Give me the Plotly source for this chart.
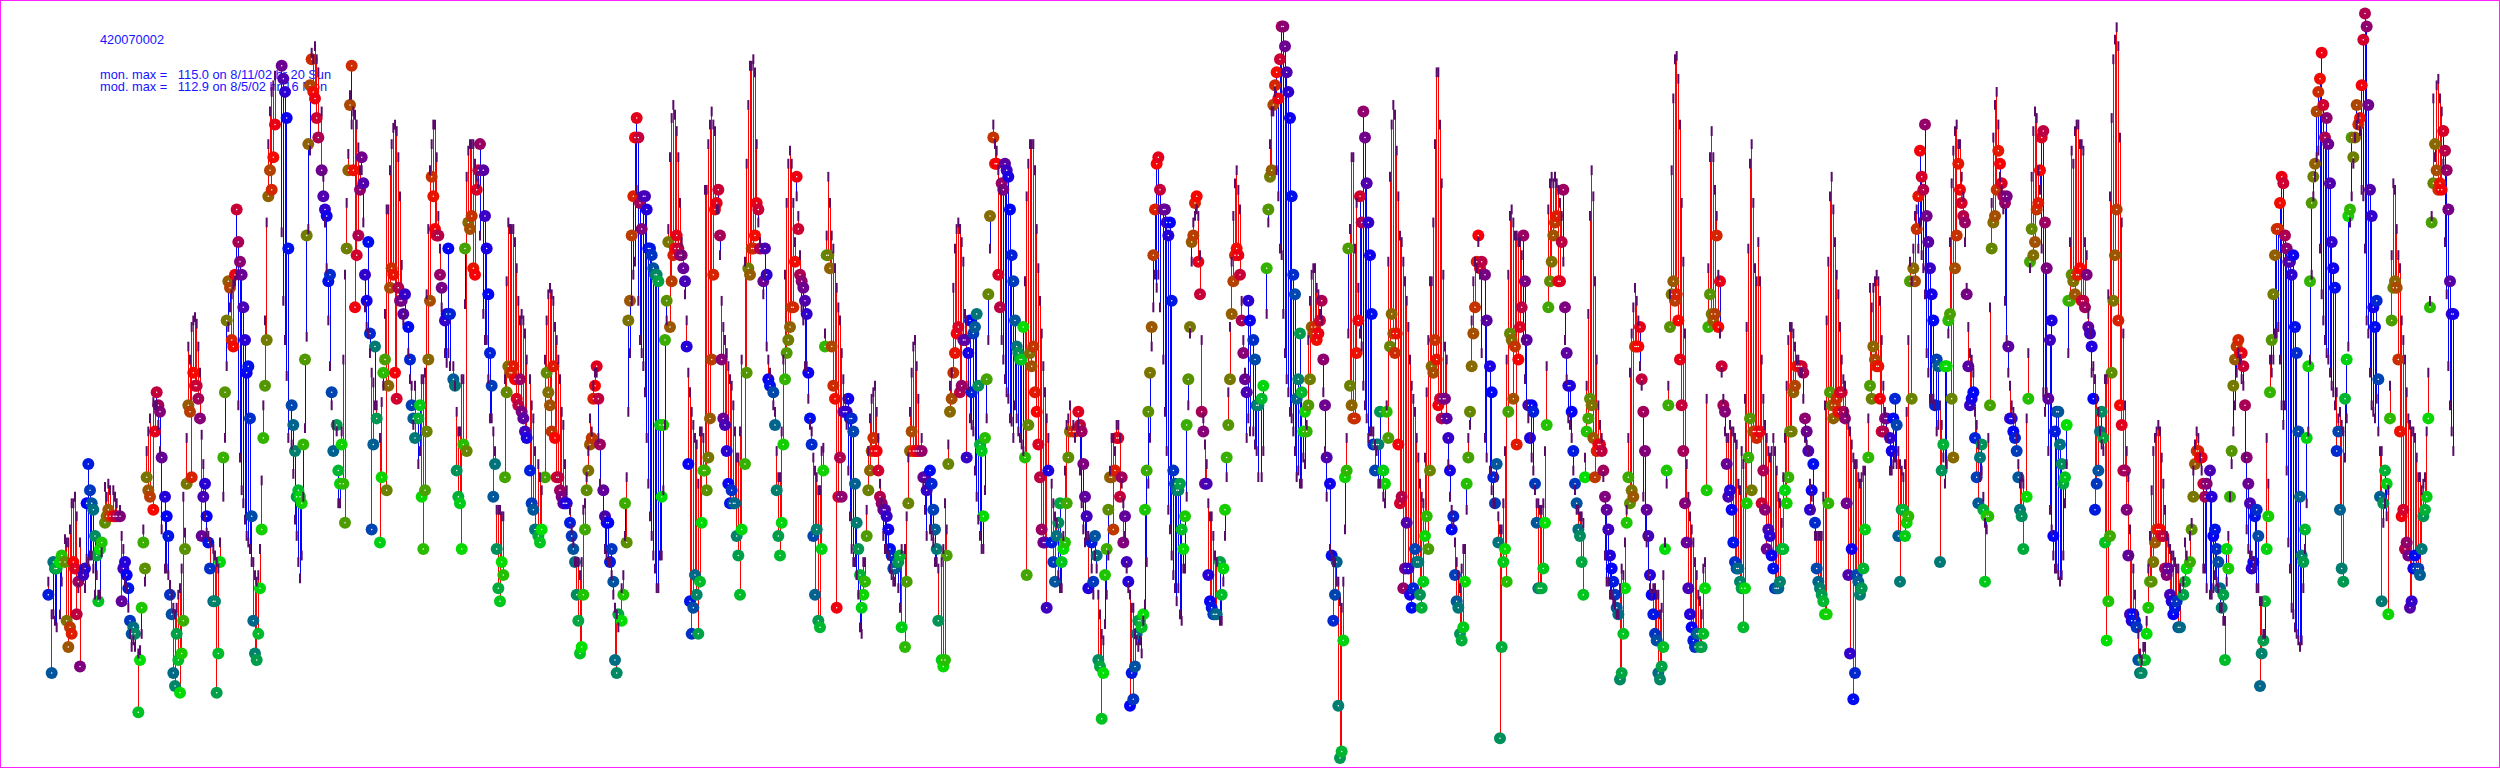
import plotly.graph_objects as go

site_id = "420070002"
mon_text = "mon. max =\u00a0\u00a0 115.0 on 8/11/02 hr 20 Sun"
mod_text = "mod. max =\u00a0\u00a0 112.9 on 8/5/02 hr 16 Mon"

# (hour index, monitor ppb, model ppb)
seg_1 = [(29,26,28),(31,14,23),(32,31,23),(33,30,22),(34,30,21),(36,31,23),(37,32,28),(39,31,34.5),(40,22,34),(41,18,34),
(42,21,36),(43,20,40),(44,31,40),(45,30,41),(46,23,38),(47,28,27),(48,15,34),(50,29,30),(51,30,27),(52,40,31.5),(53,46,31),(54,42,32),(55,40,32),(56,39,30),(57,35,26),(58,32,29),(59,25,26),(60,33,26),(61,34,32.5),
(63,37,42.5),(64,38,41),(65,39,43),(66,38,42),(68,38,42),(69,38,41),(70,38,40),(72,38,39),(73,25,35),(74,30,33),(75,31,28),(76,29,27),(77,27,24),(78,22,20),(79,20,18),(80,21,19),(81,20,18),(83,8,17),(84,16,17.5),(85,24,20),(86,34,36),(87,30,28),(88,44,48),(89,42,51),(90,41,53),(92,39,55.5),(93,51,55),(94,57,55),(95,55,52),(96,54,48),(97,47,36),(99,41,30),
(100,38,30),(101,35,29),(102,26,27.5),(103,23,26),(104,14,24),(105,12,23),(106,20,24),(107,16,26),(108,11,27),(109,17,30),(110,22,41),(111,33,35.5),(112,43,50),(113,55,64),(114,54,62),(115,44,67),(116,60,68),(117,58,68.5),(118,58,67.5),(119,56,64),(120,53,60),
(121,35,50.5),(122,41,46),(123,43,38),(124,38,35.5),(125,34,35),(126,30,34),(128,25,33),(129,25,32),(130,11,31),(131,17,30),(132,31,34),(134,47,41),(135,57,50),(136,68,61),(137,74,67),(138,73,70),(139,65,72),(140,64,73.5),(141,75,74),(142,85,75),(143,80,55),(144,77,47),(145,75,42),(146,70,40),(147,65,37.5),(148,60,35),(149,61,34),(150,53,33),
(151,38,31),(152,22,31),(153,17,29),(154,16,28),(155,20,29),(156,27,33),(157,36,43.5),(158,50,55),(159,58,68),(160,65,83),(161,87,95),(162,91,100),(163,88,103),(164,93,104),(165,98,105.5),(169,107,81.5),(170,105,71),(171,103,65),(172,99,59.5),(173,79,50),(175,55,49),(176,52,44.5),(177,48,37.5),(178,41,35),(179,42,31),(180,41,28.5),(181,40,32),(182,49,41),(183,62,51.5),(184,81,65.5),(185,95,82),(186,104,94)]

seg_2 = [(187,108,109),(188,103,108),(189,102,110),(190,99,108),(191,96,106),(193,91,100),(194,87,90),(195,85,83),(196,84,76),(197,74,68),(198,75,61),(199,57,55),(200,48,52),(202,52,51),(203,45,40),(204,43,40),(205,49,51),(206,43,62),(207,37,75),(208,79,86),(209,91,93.5),(210,101,102.5),(211,107,98),(212,91,100),(213,70,99.5),(214,78,98),(215,81,94.5),(216,88,91),(217,93,91),(218,89,83),(219,75,70),(220,71,67),
(221,80,66),(222,66,63),(223,36,60),(224,49,58.5),(225,64,55),(226,53,55),(228,34,50),(229,44,55.5),(230,60,58),(231,62,69),(232,42,85),(233,58,85),(234,73,91),(235,76,95),(236,75,97.5),(237,60,98),(238,56,97),(239,73,93),(240,71,87),(241,71,76.5),(242,69,68),(243,72,69),(245,67,63),(246,62,59),(247,55,58),(248,53,52),(249,50,58),(251,53,46),(252,55,48),(253,41,59),(254,33,59),(255,42,60),(256,51,72),(257,62,82),(258,71,91),(259,90,95),(260,87,98),(261,82,98),(262,81,93),(263,81,84),(264,75,79),(265,73,70),(267,68,63),(268,69,61.5),(269,79,63),(270,69,61),(272,59,61),(273,58,58),(274,45,54),(275,41,51),(276,40,51),(277,33,59),(278,49,59),(279,79,70.5),(280,48,90),
(281,83,94),(282,82,95),(283,84,95),(284,76,95),(285,75,92),(286,88,90),(287,91,89),(288,95,81),(290,91,69),(291,84,65),(292,79,65),(293,72,59),(294,63,53),(295,58,53),(296,41,51),(297,46,48),(298,33,39),(299,27,39),(300,25,39),(301,31,38),(302,29,38),(303,44,59),(304,57,74),(305,61,83),(306,60,82),(307,60,82),(308,61,82),(309,59,80),(310,56,76),(311,55,71),(312,59,68),(313,54,69),(314,53,68),(315,51,66),(316,50,62),(318,45,59),(319,40,55),(320,39,53),(321,36,48),(323,35,46),(324,34,44),(325,36,42),(327,44,62),(328,60,68),(329,57,72),(330,55,73),(331,51,72),(332,61,71),(333,50,67),(334,44,65),(335,44,62),(336,42,59),(337,41,54),(338,40,52),(339,40,46),(340,40,42),
(342,37,39),(343,35,36),(344,33,34),(345,31,31),(346,26,31),(347,22,31),(348,17,29),(349,18,31),(350,26,39),(351,36,40),(352,42,44),(353,45,48),(354,49,53),(355,50,51),(356,56,58),(357,58,60),(358,61,60),(359,56,50),(360,49,43),(362,42,38),(363,38,33),(364,37,32),(365,37,31),(366,31,31),(367,33,29),(368,28,26),(369,16,24),(370,14,23),(371,23,21),(373,22,27),(374,26,29),(375,40,35),(376,34,44)]

seg_3 = [(377,68,54),(378,71,63),(379,81,71),(380,87,75),(381,96,77),(382,99,88),(383,96,71),(384,86,65),(385,82,63),(386,87,61),(387,87,57),(388,85,50),(389,79,43),(390,79,38),(391,78,35),(392,76,32),(393,75,30),(394,75,27),(395,74,27),(396,52,32),(397,41,32),(398,52,42),(399,65,52),(400,71,68),(401,80,82),(402,67,93),(403,74,99),(404,78,101),(405,79,99.5),(406,81,97),(407,79,93),(408,78,86),(409,78,80),(410,76,78),(411,74,72),(412,64,68),(413,46,60),(414,25,57),(415,20,54),(416,24,52),(417,29,50),(418,26,49),(419,20,43),(420,28,51),(421,37,51),(422,45,50),(423,45,88),(424,42,88),(425,47,95),(426,53,98),(427,62,100),(428,75,98),(429,85,97),(430,86,85),(431,88,85),(432,81,78),(433,62,71),(434,53,67),(435,52,65),(436,48,63),(437,43,61),(438,40,59),(439,42,58),(440,40,55),(441,40,51),(442,35,47),(443,32,47),(444,26,51),(445,36,62),(447,46,77),(448,60,92),(449,76,101),(450,75,107),(451,79,107),(452,79,108),(453,81,106),(454,86,95),(455,85,83),(456,79,80),(458,74,72),(459,79,75),(460,75,64),(461,59,62),(462,58,60),(464,57,55),(465,52,54),(466,42,48),(467,35,44),(468,32,44),(469,37,51),(470,49,62),(471,59,75),(472,63,86),(473,65,92),(474,67,94),(475,70,92),(476,70,86),(477,77,80),(478,90,87),(479,82,84),(480,75,78),(481,74,70),(482,73,68),(483,71,61),(484,69,61),(485,60,56),(486,53,52),(487,49,51),(488,35,47),(489,26,45),(490,36,44),(491,22,42),(492,21,42),(493,33,48),(494,45,48.5),(495,64,66),(496,78,81),(497,78,90),(498,76,86),(499,64,81),(500,58,79),(501,56,76),(502,24,73),(503,41,70),(504,47,68),(505,41,63),(506,54,59),(507,54,56),(508,54,52),(509,56,45),(510,53,38),(511,53,33),(512,51,31),(513,43,31),(514,37,29),(515,33,26),(516,29,21),(517,24,20),(518,26,31),(519,28,31),(520,35,39),(521,42,48),(522,45,53),(523,48,56),(524,50,57),(525,48,58),(526,48,54),(527,45,50),(528,41,43),(529,40,40),(530,39,35),(531,39,33),(532,38,33),(533,36,32),(534,33,30),(535,32,29),(536,30,28),(537,30,28),(539,31,27),(540,32,24),(541,21,33),(543,18,33),(544,28,38),(545,40,47),(546,48,54),(547,51,60),(548,48,64),(549,48,65),(550,48,61),(551,48,56),(553,48,50),(554,44,43),(555,44,39),(556,42,35),(558,45,36),(559,43,35),(560,39,34)]

seg_4 = [(561,36,31),(562,33,31),(563,22,30),(565,16,31),(566,15,33),(567,16,40),(568,32,36),(569,46,49),(570,54,58),(571,56,60),(572,60,73),(573,63,79),(574,66,82),(575,67,83),(576,57,82),(577,58,80),(578,65,77),(579,65,69),(580,47,68),(581,63,58),(582,68,53),(583,57,52),(584,66,51),(585,67,45),(586,69,41),(587,58,37.5),(588,49,35),(589,48,33),(590,38,33),(591,50,42),(592,59,53),(593,72,65),(594,84,79),(596,96,98),(597,92,95),(598,92,94),(599,75,91),(600,70,88),(601,89,65),(602,88,62),(603,92,59),(604,91,57),(605,90,56),(606,85,53),(607,78,52.5),(608,74,50),(609,68,55),(610,64,53),(611,63,51),(612,62,50),(613,62,49),(614,67,48),(615,47,74),(616,29,87),(617,52,92),(618,63,95),(619,61,95),(620,64,95),(621,57,91),(622,54,82),(623,49,76),(624,44,71),(625,36,66),(626,34,61),(627,34,57),(628,24,53),(629,45,50),(631,34,43),(632,31,40),(633,28,38),(634,35,37),(635,37,29),(636,40,27),(637,31,27),(638,33,35),(639,34,45),(640,40,52),(641,47,53),(642,51,55),(644,51,52),(645,51,50),(647,54,52),(648,52,45),(649,51,40),(650,46,36),(651,41,34),(652,38,35),(653,27,35),(655,34,30),(656,28,26),(657,35,32),(658,32,30),(659,16,26),(660,15,23),(661,7,20),(662,14,19),(663,29,21.5),(664,33,26),(665,39,32),(666,44,45),(667,44,50),(668,36,50),(669,45,48),(670,50,52),(671,50,52),(672,41,50),(673,44,43),(674,34,40),(675,38,35),(676,31,30),(677,28,27),(678,9,26),(679,14,24),(680,10,24),(681,15,20),(682,20,19),(683,22,18),(684,22,19),(685,21,17),(686,23,22),(687,39,24.5),(688,45,31),(689,54,43),(690,60,50),(691,67,64),(692,78,70),(693,85,75),(694,92,73),(695,93,75),(696,88,70),(698,85,62),(699,85,54),(700,83,48),(701,81,39),(702,83,36),(703,71,32),(704,45,29),(705,43,27),(706,42,25),(707,42,27),(708,43,23),(709,36,22),(710,33,30),(711,38,30),(712,52,41),(713,59,55),(714,67,66),(715,80,77),(716,81,83),(717,86,84),(718,87,85),(719,77,84),(720,72,78),(721,54,65),(722,51,53),(723,43,49),(724,43,46),(725,29,40),(726,25,38),(727,24,38),(728,23,35),(729,23,32),(730,23,31),(732,31,22),(733,26,22),(734,30,28),(735,39,35),(736,47,44),(737,52,57),(738,59,67),(739,69,77),(740,74,84),(741,78,89),(742,79,91),(743,78,88),(744,75,85)]

seg_5 = [(745,68,71),(746,63,65),(747,59,60),(748,57,50),(749,71,53),(750,68,51),(752,65,51),(753,62,49),(754,55,48),(755,55,44),(757,56,44),(758,58,48),(760,76,69),(761,85,83),(762,90,95),(763,91,100),(764,101,100),(765,104,103),(766,106,91),(767,102,87),(768,108,79),(769,113,78),(770,113,69),(771,110,63),(772,106,59),(773,103,57),(774,99,54),(775,87,53),(776,75,51),(777,72,48),(778,56,44),(779,59,45),(780,66,43),(781,57,43),(782,51,47),(783,54,46),(784,51,52),(785,55,65),(786,59,71),(787,67,75),(788,66,76),(789,67,76),(790,65,73),(791,66,72),(792,68,69),(793,71,68),(794,62,57),(795,55,48),(796,47,41),(798,43,33),(799,32,32),(800,22,31),(801,26,31),(802,31,28),(803,9,28),(804,1,25),(805,2,24),(806,19,28),(807,44,36),(808,45,50),(809,79,66),(810,58,82),(811,55,93),(812,53,93),(813,53,79),(814,63,86),(815,68,73),(816,87,66),(817,83,64),(818,100,58),(819,96,55),(820,89,53),(821,83,50),(822,78,51),(823,69,51),(824,49,51),(825,45,49),(826,49,48),(827,49,43),(828,54,43),(830,45,41),(831,43,40),(832,54,55),(833,50,77),(834,64,90),(835,69,98),(836,66,101),(837,63,99.5),(838,66,94),(839,49,87),(840,40,81),(841,41,80),(842,27,77),(843,30,74),(844,37,71),(845,30,67),(846,26,62),(847,24,58),(848,27,56),(849,33,54),(850,31,50),(851,31,47),(852,26,43),(853,24,41),(854,28,40),(855,35,47),(856,38,57),(857,33,65),(858,45,74),(859,61,74),(860,60,83),(861,65,95),(862,62,106),(863,55,106),(864,56,98),(865,53,89),(866,56,75),(867,56,64),(868,53,62),(869,50,46),(870,45,41),(871,36,39),(872,38,37),(873,29,34),(874,25,31),(875,24,29),(876,20,27),(877,19,30),(878,21,33),(879,28,33),(880,43,39),(881,47,50),(882,54,52),(883,61,68),(884,66,74),(885,70,77),(886,77,76),(887,81,80),(888,76,75),(889,77,63),(891,75,50),(892,68,47),(894,61,45),(895,57,42),(896,44,40),(897,40,40),(898,46,44),(899,34,38),(900,4,36),(901,18,36),(902,31,40),(903,33,48),(904,28,62),(905,54,75),(906,66,84),(907,65,85),(908,56,83),(909,64,81),(910,49,81),(911,62,80),(912,67,80),(913,70,78),(914,81,65),(915,74,59),(916,65,55),(917,55,53),(918,50,50),(919,55,47),(920,54,45),(921,43,42),(922,37,40),(923,27,40),(924,27,39),(925,27,39),(926,30,40),(927,37,48),(928,52,61),(929,70,85),(930,74,89),(931,77,90),(932,81,89),(933,83,90),(934,84,89),(935,74,88)]

seg_6 = [(936,74,86),(937,80,84),(938,88,77),(939,70,65),(940,63,59),(941,58,53),(942,58,52),(943,54,50),(944,48,45),(945,43,42),(946,40,39),(947,36,39),(948,35,38),(949,31,38),(950,26,37),(951,44,47),(952,51,58),(953,53,69),(954,56,84),(955,55,91),(956,50,87),(957,44,74),(958,48,62),(959,49,55),(960,49,52),(961,48,50),(962,45,44),(963,41,32),(964,39,28),(965,36,28),(966,32,26),(967,30,26),(968,28,25),(969,26,24.5),(970,24,23),(971,23,23),(972,13,27),(973,14,30),(974,20,29),(975,27,34),(976,37,39),(977,44,50),(978,40,60),(979,42,66),(980,41,70),(981,64,73),(982,64,71),(983,64,68),(984,67,61),(985,59,58),(986,54,41),(987,48,35),(988,39,34),(989,35,29),(990,29,27),(991,26,26),(992,23,27),(993,20,27),(994,19,26),(995,14,26),(996,13,23),(997,15,24),(998,18,29),(999,33,34),(1000,45,43),(1001,55,58),(1002,67,72),(1003,72,91),(1004,74,102),(1005,71,108),(1006,72,108.5),(1007,68,105),(1008,62,98),(1009,55,86),(1010,48,77),(1011,40,66),(1012,34,46),(1013,27,41),(1014,23,38),(1015,21,36),(1016,19,34),(1017,18,31),(1018,20,29),(1019,20,26),(1020,18,25),(1021,18,23),(1022,20,30),(1023,27,31),(1024,42,56),(1025,67,76),(1026,72,93),(1027,69,97),(1028,68,93),(1029,69,88),(1030,81,84),(1031,67,75),(1032,74,66),(1033,61,60),(1034,55,56),(1035,54,51),(1036,46,50),(1037,41,50),(1038,42,52),(1039,39,51),(1040,34,51),(1041,31,50),(1042,30,49),(1043,30,43),(1044,28,42),(1045,27,48),(1046,21,46),(1047,27,56),(1048,40,67),(1049,47,79),(1050,53,92),(1051,42,95),(1052,51,86),(1053,51,76),(1054,50,74),(1055,51,80),(1056,51,74),(1057,40,62),(1058,45,56),(1059,39,52),(1060,33,50),(1061,36,48),(1062,35,47),(1063,32,48),(1064,30,50),(1065,27,48),(1066,27,45),(1067,27,41),(1068,28,40),(1069,33,37),(1070,33,44),(1071,42,50),(1072,40,58),(1073,44,65),(1074,51,67),(1075,51,67),(1076,57,66),(1077,58,64),(1078,61,62),(1079,61,62),(1080,61,60),(1081,61,60),(1082,60,56),(1083,53,50),(1084,51,49),(1085,48,48),(1086,39,43),(1087,42,41),(1088,46,39),(1089,37,35),(1090,30,35),(1091,28,35),(1092,27,35),(1093,26,35),(1094,25,41),(1095,23,55),(1096,23,68),(1097,40,77),(1098,57,87),(1099,55,90),(1100,53,85),(1101,55,80),(1102,56,75),(1103,54,72),(1104,57,67),(1105,57,62),(1106,54,59),(1107,53,58),(1108,40,54),(1109,29,52),(1110,17,51),(1111,33,49),(1112,10,47),(1113,14,46),(1114,29,46),(1115,28,44),(1116,26,43),(1117,27,44),(1118,30,45),(1119,36,45)]

seg_7 = [(1121,47,53),(1122,58,73),(1123,56,70),(1124,64,73),(1125,62,74),(1126,61,75),(1127,61,74),(1128,56,71),(1129,51,65),(1130,51,58),(1131,53,54),(1132,53,50),(1134,50,45),(1135,48,45),(1136,53,46),(1137,56,47),(1138,52,46),(1139,35,48),(1140,28,46),(1141,39,45),(1142,39,44),(1143,35,46),(1144,37,54),(1145,38,65),(1146,74,77),(1147,56,74),(1148,76,79),(1149,74,84),(1150,82,85),(1151,87,79),(1152,94,83),(1153,90,78),(1154,88,76),(1155,98,72),(1156,84,63),(1157,80,60),(1158,76,56),(1159,72,56),(1160,68,56),(1161,55,55),(1162,62,51),(1163,61,52),(1164,31,55),(1165,45,52),(1166,49,47),(1167,61,43),(1168,61,46),(1169,68,66),(1170,69,80),(1171,56,89),(1172,47,94),(1173,76,97),(1174,81,98),(1175,92,95),(1176,88,95),(1177,86,90),(1178,84,87),(1179,83,80),(1180,72,73),(1181,61,67),(1182,55,63),(1183,56,62),(1184,57,60),(1185,50,54),(1186,44,52),(1187,40,49),(1188,47,44),(1189,49,45),(1190,39,41),(1191,28,37),(1192,38,36),(1193,38,50),(1194,55,70),(1195,79,86),(1196,83,96),(1197,84,101),(1198,88,103),(1199,94,98),(1200,92,90),(1201,89,88),(1202,87,85),(1203,86,71),(1204,87,65),(1205,64,60),(1206,53,58),(1207,53,55),(1208,51,54),(1209,50,53),(1210,48,50),(1211,44,46),(1212,39,43),(1213,38,44),(1214,33,43),(1216,41,53),(1217,56,63),(1218,77,76),(1219,82,90),(1220,78,97),(1221,80,100),(1222,85,99),(1223,86,91),(1224,91,88),(1225,96,79),(1226,97,57),(1227,83,54),(1228,76,57),(1229,56,48),(1230,65,39),(1231,68,36),(1232,35,32),(1233,51,30),(1234,54,30),(1235,54,29),(1236,49,28),(1237,46,29),(1238,43,32),(1239,44,40),(1240,52,46),(1241,71,63),(1242,71,80),(1243,75,94),(1244,74,92),(1245,72,97),(1246,75,98),(1247,75,98),(1248,76,95),(1249,71,95),(1250,71,94),(1251,70,80),(1252,75,78),(1253,67,69),(1254,66,66),(1255,64,60),(1256,56,61),(1257,39,59),(1258,43,56),(1259,45,54),(1260,51,51),(1261,54,49),(1262,50,48),(1263,34,59),(1264,19,59),(1265,25,72),(1266,35,87),(1267,60,99),(1268,71,108),(1269,78,111),(1270,85,112.9),(1271,68,110),(1272,55,96),(1273,52,83),(1274,45,66),(1275,45,55),(1276,39,48),(1277,32,44),(1278,23,36),(1279,22,32),(1280,23,30),(1281,22,26),(1282,21,23),(1283,16,20),(1284,14,17),(1285,14,16),(1286,16,18),(1287,16,18),(1288,20,22),(1289,24,30),(1290,28,35),(1291,28,42),(1292,31,48),(1293,34,50),(1294,36,51),(1295,36,52),(1296,36,51),(1297,35,47),(1298,35,43),(1299,30,39),(1300,29,35),(1301,30,34),(1302,26,33),(1303,25,32),(1304,23,32),(1305,24,31),(1306,25,30),(1307,21,30)]

seg_8 = [(1308,21,27),(1310,26,28),(1311,28,34),(1312,30,32),(1314,31,35),(1315,36,37),(1316,41,45),(1317,46,49),(1318,48,51),(1319,48,50),(1320,47,47),(1321,47,45),(1322,43,30),(1323,41,30),(1324,43,27),(1326,45,26),(1327,41,26),(1328,35,27),(1329,36,29),(1330,33,28),(1331,31,27),(1332,27,24),(1333,24,24),(1334,26,22),(1335,16,22),(1336,33,28),(1337,30,35),(1338,41,41),(1339,48,46),(1340,58,51),(1341,62,55),(1342,64,60),(1343,65,63),(1344,63,62),(1345,63,59),(1346,61,58),(1347,55,47),(1348,47,36),(1349,43,33),(1350,40,32),(1351,30,32),(1352,31,30),(1353,38,31),(1354,39,27),(1355,35,27),(1356,12,25),(1357,17,25),(1358,19,20),(1359,25,20),(1360,33,50),(1361,38,43),(1362,57,62),(1363,65,60),(1364,72,62),(1365,78,66),(1366,82,66),(1367,82,67),(1368,86,62),(1369,90,55),(1370,89,52),(1371,81,55),(1372,79,45),(1373,77,34),(1374,77,30),(1375,75,24),(1376,78,23),(1377,67,21),(1378,63,20),(1379,51,19),(1380,41,18),(1381,32,19),(1382,31,27),(1383,36,33),(1384,50,40),(1385,61,51),(1386,74,62),(1387,86,75),(1388,90,87),(1389,92,90),(1390,100,93),(1391,103,94),(1392,105,79),(1393,109,72),(1394,101,68),(1395,96,65),(1396,99,63),(1397,95,62),(1398,89,60),(1399,80,58),(1400,76,57),(1401,73,55),(1402,48,57),(1403,51,53),(1404,39,54),(1405,30,52),(1406,28,51),(1407,56,47),(1408,62,53),(1409,84,64),(1410,85,83),(1411,96,87),(1412,93,92),(1413,96,96),(1414,101,98),(1415,98,99),(1416,99,97),(1417,104,88),(1418,111,87),(1419,115,79),(1420,113,68),(1421,101,66),(1422,88,60),(1423,84,55),(1424,70,54),(1425,67,53),(1426,71,56),(1427,59,51),(1428,41,48),(1429,25,48),(1430,40,37),(1431,45,40),(1432,43,38),(1433,23,42),(1434,53,58),(1435,68,78),(1436,73,89),(1437,74,88),(1438,73,82),(1439,62,78),(1440,51,76),(1441,38,68),(1442,39,65),(1443,33,62),(1444,34,57),(1445,32,53),(1446,24,52),(1447,25,51),(1448,30,51),(1449,32,50),(1450,30,47),(1451,30,44),(1452,29,44),(1453,33,42),(1454,38,43),(1455,39,44),(1456,41,51),(1457,53,60),(1458,70,71),(1459,83,84),(1460,89,102),(1461,95,93),(1462,91,104),(1463,88,105),(1464,89,102),(1465,88,100),(1466,97,92),(1467,94,80),(1468,91,72),(1469,85,61),(1470,74,55),(1471,69,51),(1472,69,48)]

records = seg_1 + seg_2 + seg_3 + seg_4 + seg_5 + seg_6 + seg_7 + seg_8
hours = [r[0] for r in records]
monitor = [r[1] for r in records]
model = [r[2] for r in records]

# circle colour follows the time of day: a red / green / blue wheel over 24 hours
def hour_colour(h):
    hod = ((h - 44) * 24 / 24.08 + 13) % 24
    def amount(peak):
        d = abs(hod - peak)
        d = min(d, 24 - d)
        return max(0.0, 1 - d / 8)
    return "rgb(%d,%d,%d)" % (255 * amount(13), 225 * amount(5), 255 * amount(21))

def segments(keep):
    xs, ys = [], []
    for h, a, b in records:
        if keep(a, b):
            xs += [h, h, None]
            ys += [a, b, None]
    return xs, ys

fig = go.Figure()
# title text lies under the marks, so it is a trace drawn first
fig.add_trace(go.Scatter(x=[60, 60, 60], y=[110.8, 105.4, 103.6], mode="text",
    text=[site_id, mon_text, mod_text], textposition="middle right",
    textfont=dict(family="Liberation Sans", size=12.8, color="#1414ff"), hoverinfo="skip"))
rx, ry = segments(lambda a, b: b >= a)
bx, by = segments(lambda a, b: b < a)
fig.add_trace(go.Scatter(x=rx, y=ry, mode="lines", line=dict(color="#ff0000", width=1), hoverinfo="skip"))
fig.add_trace(go.Scatter(x=bx, y=by, mode="lines", line=dict(color="#0000ff", width=1), hoverinfo="skip"))
fig.add_trace(go.Scatter(x=hours, y=monitor, mode="markers", hoverinfo="skip",
    marker=dict(size=12, color=[hour_colour(h) for h in hours], line=dict(width=0))))
fig.add_trace(go.Scatter(x=hours, y=monitor, mode="markers", hoverinfo="skip",
    marker=dict(size=1.5, color="white", line=dict(width=0))))
fig.add_trace(go.Scatter(x=hours, y=model, mode="markers", hoverinfo="skip",
    marker=dict(symbol="line-ns", size=7, color="#5a0a6a", line=dict(width=2, color="#5a0a6a"))))

fig.update_layout(width=2500, height=768, autosize=False, showlegend=False,
    margin=dict(l=0, r=0, t=0, b=0), paper_bgcolor="white", plot_bgcolor="white",
    xaxis=dict(range=[0, 1500], visible=False, fixedrange=True),
    yaxis=dict(range=[-0.54, 117.07], visible=False, fixedrange=True),
    shapes=[dict(type="rect", xref="paper", yref="paper", x0=0, x1=1, y0=0, y1=1,
                 line=dict(color="#ff20ff", width=2), layer="above")])

fig.write_html("out.html", config=dict(displayModeBar=False, staticPlot=True),
    post_script="document.body.style.margin='0';document.body.style.overflow='hidden';"
                "document.querySelectorAll('.js-line').forEach(p=>p.style.shapeRendering='crispEdges');")
